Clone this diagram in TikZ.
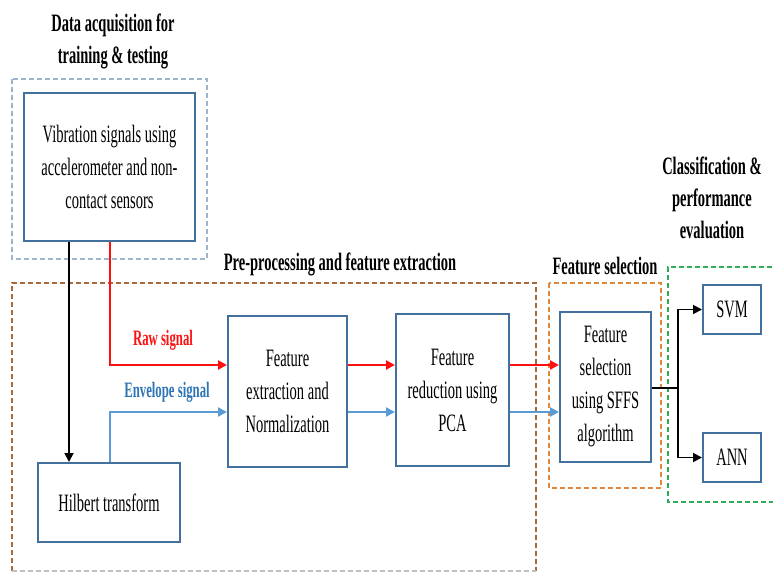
\documentclass[tikz,border=0pt]{standalone}
\usepackage{fontspec}
\setmainfont{Liberation Serif}[FakeStretch=0.58]
\usetikzlibrary{arrows.meta}
\definecolor{boxblue}{HTML}{41719C}
\definecolor{dashblue}{HTML}{9FB4CC}
\definecolor{dashbrown}{HTML}{A9683A}
\definecolor{dashorange}{HTML}{E0883E}
\definecolor{dashgreen}{HTML}{2EAD5B}
\definecolor{arrred}{HTML}{FF1010}
\definecolor{arrblue}{HTML}{5B9BD5}
\definecolor{lblblue}{HTML}{2E75B6}
\tikzset{
  procbox/.style={draw=boxblue, line width=2pt, fill=white, inner sep=0pt, align=center,
    font=\fontsize{25}{33}\selectfont},
  grp/.style={dashed, dash pattern=on 5pt off 3pt, line width=1.4pt},
  ttl/.style={font=\fontsize{25}{32}\selectfont\bfseries, align=center},
  tip/.style={-{Triangle[length=9pt,width=9pt]}},
  redline/.style={draw=arrred, line width=2.2pt, tip},
  blueline/.style={draw=arrblue, line width=2.2pt, tip},
  blkline/.style={draw=black, line width=1.8pt, tip},
  lbl/.style={font=\fontsize{22}{26}\selectfont\bfseries},
}
\begin{document}
\begin{tikzpicture}[x=1pt,y=-1pt]
\useasboundingbox (0,0) rectangle (773,573);
% group boxes
\draw[grp, draw=dashblue] (12,79) rectangle (207,259);
\draw[grp, draw=dashbrown] (12,571) -- (12,283) -- (536,283) -- (536,571);
\draw[grp, draw=black!25] (12,571) -- (536,571);
\draw[grp, draw=dashorange] (549,283) rectangle (661,488);
\draw[grp, draw=dashgreen] (780,267) -- (668,267) -- (668,502) -- (780,502);
% titles
\node[ttl] (t1) at (113,41) {Data acquisition for\\training \& testing};
\node[ttl] (t2) at (340,264) {Pre-processing and feature extraction};
\node[ttl] (t3) at (605,266) {Feature selection};
\node[ttl] (t4) at (712,198) {Classification \&\\performance\\evaluation};
% process boxes
\node[procbox, minimum width=171pt, minimum height=148pt] (vib) at (109.5,167) {Vibration signals using\\accelerometer and non-\\contact sensors};
\node[procbox, minimum width=142pt, minimum height=79pt] (hil) at (109,502.5) {Hilbert transform};
\node[procbox, minimum width=119pt, minimum height=151pt] (fe) at (287.5,391.5) {Feature\\extraction and\\Normalization};
\node[procbox, minimum width=113pt, minimum height=152pt] (pca) at (452.5,390) {Feature\\reduction using\\PCA};
\node[procbox, minimum width=91pt, minimum height=150pt] (sf) at (605.5,387) {Feature\\selection\\using SFFS\\algorithm};
\node[procbox, minimum width=58pt, minimum height=49pt] (svm) at (732,309.5) {SVM};
\node[procbox, minimum width=58pt, minimum height=49pt] (ann) at (732,457.5) {ANN};
% connectors
\coordinate (rawc) at (110,365);
\coordinate (envc) at (110,412);
\draw[redline] (vib.south -| rawc) -- (rawc) -- (fe.west |- rawc);
\draw[blkline] (vib.south -| 69,0) -- (hil.north -| 69,0);
\draw[blueline] (hil.north -| envc) -- (envc) -- (fe.west |- envc);
\draw[redline] (fe.east |- rawc) -- (pca.west |- rawc);
\draw[blueline] (fe.east |- envc) -- (pca.west |- envc);
\draw[redline] (pca.east |- rawc) -- (sf.west |- rawc);
\draw[blueline] (pca.east |- envc) -- (sf.west |- envc);
\coordinate (br) at (678,388);
\draw[line width=1.8pt] (sf.east |- br) -- (br);
\draw[blkline] (br) |- (svm.west);
\draw[blkline] (br) |- (ann.west);
% labels
\node[lbl, text=arrred] (lraw) at (163,340) {Raw signal};
\node[lbl, text=lblblue] (lenv) at (167,392) {Envelope signal};
\end{tikzpicture}
\end{document}
